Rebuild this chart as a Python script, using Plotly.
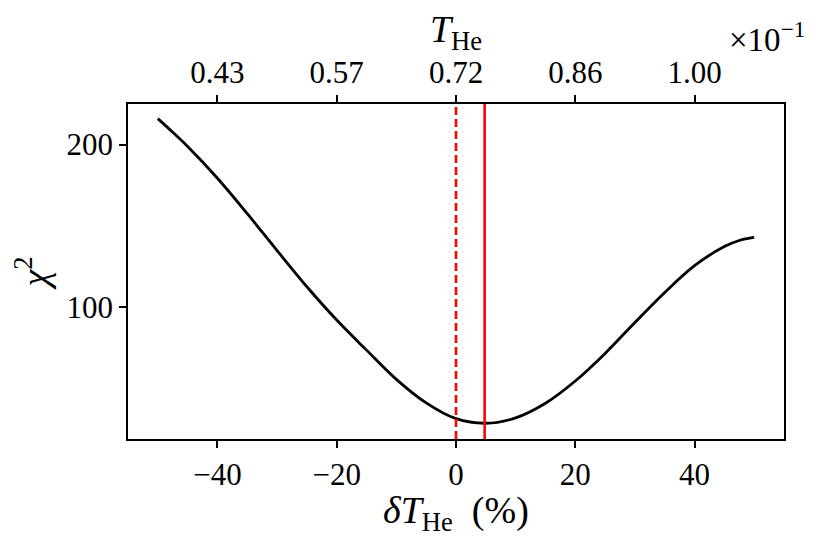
import plotly.graph_objects as go

# data
delta_T = [-50, -47.5, -45, -40, -35, -30, -25, -20, -15, -10, -5, 0, 5, 10, 15, 20, 25, 30, 35, 40, 45, 47.5, 50]
chi2 = [216.0, 207.6, 198.8, 179.3, 157.5, 134.8, 112.5, 92.0, 73.5, 55.5, 41.0, 31.3, 28.5, 31.8,
        40.8, 54.5, 71.5, 90.5, 109.0, 125.5, 137.3, 141.0, 142.9]

x_ticks = [-40, -20, 0, 20, 40]
x_tick_labels = ["\u221240", "\u221220", "0", "20", "40"]
top_tick_labels = ["0.43", "0.57", "0.72", "0.86", "1.00"]
y_ticks = [100, 200]
y_tick_labels = ["100", "200"]

ref_line = 0.0      # dashed red
best_fit = 4.8      # solid red

FONT = "Liberation Serif"

fig = go.Figure()
fig.add_trace(go.Scatter(x=delta_T, y=chi2, mode="lines",
                         line=dict(color="black", width=2.8, shape="spline", smoothing=1.0),
                         showlegend=False, hoverinfo="skip"))
# invisible trace to activate top axis
fig.add_trace(go.Scatter(x=[delta_T[0]], y=[chi2[0]], xaxis="x2", mode="markers",
                         marker=dict(opacity=0), showlegend=False, hoverinfo="skip"))

fig.add_shape(type="line", xref="x", yref="paper", x0=ref_line, x1=ref_line, y0=0, y1=1,
              line=dict(color="red", width=2.6, dash="8px,4px"))
fig.add_shape(type="line", xref="x", yref="paper", x0=best_fit, x1=best_fit, y0=0, y1=1,
              line=dict(color="red", width=2.6))

axis_common = dict(showgrid=False, zeroline=False, showline=True, linecolor="black", linewidth=1.6,
                   ticks="outside", ticklen=7, tickwidth=1.6, tickcolor="black",
                   tickfont=dict(family=FONT, size=31, color="black"))

fig.update_layout(
    width=830, height=554,
    margin=dict(l=120, r=54, t=96, b=123),
    plot_bgcolor="white", paper_bgcolor="white",
    xaxis=dict(range=[-55, 55], tickvals=x_ticks, ticktext=x_tick_labels, mirror=True,
               **axis_common),
    xaxis2=dict(range=[-55, 55], overlaying="x", side="top", tickvals=x_ticks, ticktext=top_tick_labels,
                title=dict(text="<i>T</i><sub>He</sub>", font=dict(family=FONT, size=38, color="black"),
                           standoff=2),
                **axis_common),
    yaxis=dict(range=[18.8, 225.0], tickvals=y_ticks, ticktext=y_tick_labels, mirror=True,
               title=dict(text="<i>\u03c7</i><sup>2</sup>", font=dict(family=FONT, size=38, color="black"),
                          standoff=8),
               **axis_common),
    annotations=[
        dict(text="\u00d710<sup>\u22121</sup>", xref="paper", yref="paper", x=1.035, y=1.0,
             yshift=90, xanchor="right", yanchor="top", showarrow=False,
             font=dict(family=FONT, size=33, color="black")),
        dict(text="<i>\u03b4T</i><sub>He</sub>  (%)", xref="paper", yref="paper", x=0.5, y=0.0,
             yshift=-74, xanchor="center", yanchor="middle", showarrow=False,
             font=dict(family=FONT, size=38, color="black")),
    ],
)

fig.write_html("out.html")
